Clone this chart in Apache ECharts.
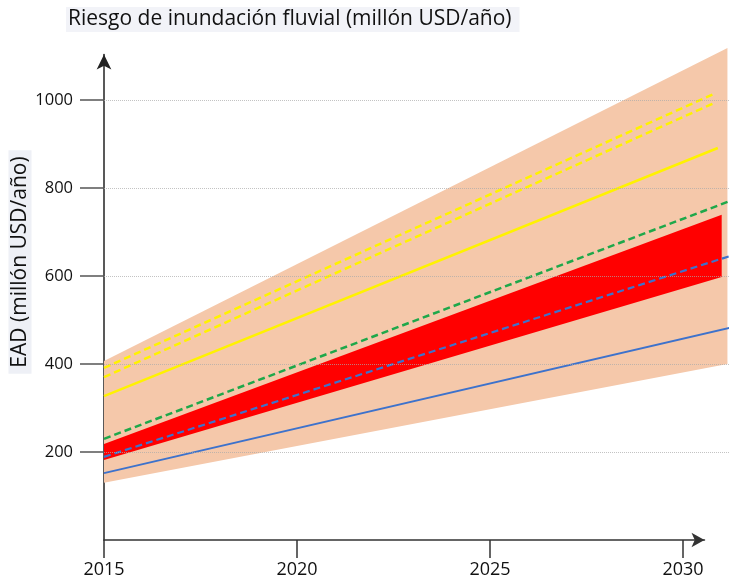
<!DOCTYPE html>
<html>
<head>
<meta charset="utf-8">
<script src="https://cdn.jsdelivr.net/npm/echarts@6/dist/echarts.min.js"></script>
<style>
  html, body { margin: 0; padding: 0; background: #fff; }
  #chart { width: 729px; height: 580px; }
</style>
</head>
<body>
<div id="chart"></div>
<script>
// tick labels
const xTicks = [2015, 2020, 2025, 2030]
const yTicks = [200, 400, 600, 800, 1000]

// band: full uncertainty range
const bandYears = [2015, 2031.15]
const peachLow = [130, 400]
const peachHigh = [407, 1118]

// band: red range
const redYears = [2015, 2031.0]
const redLow = [182, 598]
const redHigh = [218, 739]

// yellow lines
const yellowDashYears = [2015, 2030.8]
const yellowDashUpper = [391, 1014]
const yellowDashLower = [370, 993]
const yellowSolidYears = [2015, 2030.9]
const yellowSolid = [327, 891]

// lines running to the right edge
const edgeYears = [2015, 2031.2]
const greenDash = [230, 770]
const blueDash = [189, 645]
const blueSolid = [152, 482]

const pairs = (xs, ys) => xs.map((x, i) => [x, ys[i]])

const font = '"Open Sans", "Noto Sans", sans-serif'

const lineSeries = (name, xs, ys, color, width, type) => ({
  name,
  type: 'line',
  xAxisIndex: 1,
  yAxisIndex: 1,
  data: pairs(xs, ys),
  symbol: 'none',
  silent: true,
  z: 4,
  lineStyle: { color, width, type },
})

// filled polygon between a low and a high edge, one segment per pair of points
const bandSeries = (name, xs, lo, hi, color, z) => {
  const data = xs.map((x, i) => [x, lo[i], hi[i]])
  return {
    name,
    type: 'custom',
    xAxisIndex: 1,
    yAxisIndex: 1,
    silent: true,
    clip: true,
    z,
    data,
    encode: { x: 0, y: [1, 2] },
    renderItem: (params, api) => {
      const i = params.dataIndex
      if (i >= data.length - 1) return null
      const [x0, l0, h0] = data[i]
      const [x1, l1, h1] = data[i + 1]
      const points = [
        api.coord([x0, h0]),
        api.coord([x1, h1]),
        api.coord([x1, l1]),
        api.coord([x0, l0]),
      ]
      return {
        type: 'polygon',
        shape: { points },
        style: { fill: color },
      }
    },
  }
}

const chart = echarts.init(document.getElementById('chart'))

chart.setOption({
  animation: false,
  backgroundColor: '#fff',
  grid: [
    // visible axes, ending in arrows
    { left: 104, right: 24.5, top: 54.5, bottom: 40 },
    // data area, reaching the right edge
    { left: 104, right: 0, top: 40, bottom: 40 },
  ],
  xAxis: [
    {
      type: 'value',
      gridIndex: 0,
      min: 2015,
      max: 2030.556,
      interval: 5,
      axisLine: {
        lineStyle: { color: '#333', width: 1.5 },
        symbol: ['none', 'arrow'],
        symbolSize: [11, 13],
      },
      axisTick: { length: 18, lineStyle: { color: '#333', width: 1.5 }, customValues: xTicks },
      axisLabel: {
        color: '#111', fontSize: 18, fontFamily: font, margin: 21,
        customValues: xTicks, formatter: (v) => String(v),
      },
      splitLine: { show: false },
    },
    {
      type: 'value',
      gridIndex: 1,
      min: 2015,
      max: 2031.19,
      show: false,
    },
  ],
  yAxis: [
    {
      type: 'value',
      gridIndex: 0,
      min: 0,
      max: 1103.4,
      interval: 200,
      axisLine: {
        show: true,
        onZero: false,
        lineStyle: { color: '#222', width: 1.5 },
        symbol: ['none', 'arrow'],
        symbolSize: [11, 15],
      },
      axisTick: { show: true, length: 24, lineStyle: { color: '#555', width: 1.5 }, customValues: yTicks },
      axisLabel: {
        color: '#111', fontSize: 16.5, fontFamily: font, margin: 31,
        customValues: yTicks, formatter: (v) => String(v),
      },
      splitLine: { show: false },
    },
    {
      type: 'value',
      gridIndex: 1,
      min: 0,
      max: 1136.4,
      interval: 200,
      z: 5,
      axisLine: { show: false },
      axisTick: { show: false },
      axisLabel: { show: false },
      splitLine: {
        show: true,
        showMinLine: false,
        showMaxLine: false,
        lineStyle: { color: 'rgba(170, 170, 170, 0.7)', width: 1, type: [1, 1] },
      },
    },
  ],
  graphic: [
    {
      type: 'text',
      left: 66,
      top: 7,
      style: {
        text: 'Riesgo de inundación fluvial (millón USD/año)',
        font: '21px ' + font,
        fill: '#111',
        backgroundColor: '#f2f3f8',
        padding: [2, 8, 2, 2],
      },
    },
    {
      type: 'text',
      x: 20,
      y: 262,
      rotation: Math.PI / 2,
      style: {
        text: 'EAD (millón USD/año)',
        font: '21px ' + font,
        fill: '#111',
        align: 'center',
        verticalAlign: 'middle',
        backgroundColor: '#eef0f6',
        padding: [1, 6, 1, 6],
      },
    },
  ],
  series: [
    bandSeries('Rango total', bandYears, peachLow, peachHigh, '#f5c8aa', 1),
    bandSeries('Rango rojo', redYears, redLow, redHigh, '#ff0000', 2),
    lineSeries('Amarillo alto', yellowDashYears, yellowDashUpper, '#fff200', 2.5, [7, 4]),
    lineSeries('Amarillo bajo', yellowDashYears, yellowDashLower, '#fff200', 2.5, [7, 4]),
    lineSeries('Amarillo', yellowSolidYears, yellowSolid, '#fff200', 2.5, 'solid'),
    lineSeries('Verde', edgeYears, greenDash, '#1ea84a', 2.5, [7, 4]),
    lineSeries('Azul discontinua', edgeYears, blueDash, '#3d72cc', 2.2, [7, 4]),
    lineSeries('Azul', edgeYears, blueSolid, '#3d72cc', 2, 'solid'),
  ],
})

window.addEventListener('resize', () => chart.resize())
</script>
</body>
</html>
